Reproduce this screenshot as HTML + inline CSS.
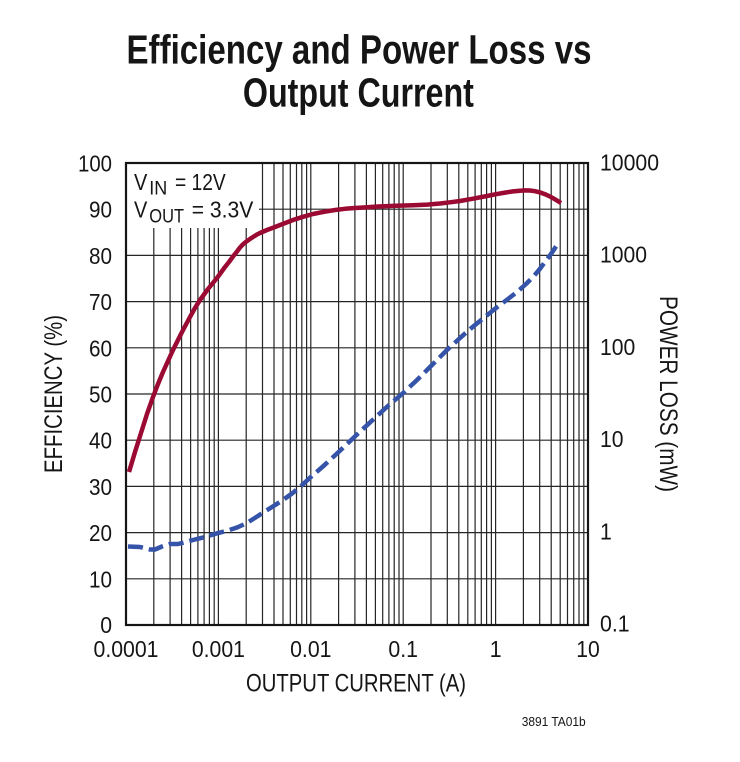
<!DOCTYPE html>
<html><head><meta charset="utf-8"><style>
html,body{margin:0;padding:0;background:#fff;}
svg{display:block;}
text{font-family:"Liberation Sans",sans-serif;fill:#151515;}
</style></head><body>
<svg width="740" height="762" viewBox="0 0 740 762" xmlns="http://www.w3.org/2000/svg">
<rect width="740" height="762" fill="#fff"/>
<!-- Title -->
<text x="359" y="63.3" font-size="41" font-weight="bold" text-anchor="middle" textLength="465" lengthAdjust="spacingAndGlyphs">Efficiency and Power Loss vs</text>
<text x="358.4" y="106.7" font-size="41" font-weight="bold" text-anchor="middle" textLength="231" lengthAdjust="spacingAndGlyphs">Output Current</text>

<!-- grid -->
<g stroke="#262626" stroke-width="1.2" fill="none">
<path d="M126 209.2H588M126 255.4H588M126 301.6H588M126 347.8H588M126 394H588M126 440.2H588M126 486.4H588M126 532.6H588M126 578.8H588"/>
<path d="M153.8 163V625M170.1 163V625M181.6 163V625M190.6 163V625M197.9 163V625M204.1 163V625M209.4 163V625M214.2 163V625
M218.4 163V625M246.2 163V625M262.5 163V625M274 163V625M283 163V625M290.3 163V625M296.5 163V625M301.8 163V625M306.6 163V625
M310.8 163V625M338.6 163V625M354.9 163V625M366.4 163V625M375.4 163V625M382.7 163V625M388.9 163V625M394.2 163V625M399 163V625
M403.2 163V625M431 163V625M447.3 163V625M458.8 163V625M467.8 163V625M475.1 163V625M481.3 163V625M486.6 163V625M491.4 163V625
M495.6 163V625M523.4 163V625M539.7 163V625M551.2 163V625M560.2 163V625M567.5 163V625M573.7 163V625M579 163V625M583.8 163V625"/>
</g>
<!-- inset box -->
<rect x="127" y="164" width="132" height="64" fill="#fff"/>
<!-- frame -->
<rect x="126" y="163" width="462" height="462" fill="none" stroke="#151515" stroke-width="2.2"/>

<!-- efficiency curve -->
<polyline fill="none" stroke="#9a0a32" stroke-width="4.5" stroke-linejoin="round" stroke-linecap="butt"
points="129,472 135,452 141,433 147,414 153,397 158,384 163,372 168,361 173,350 178,340 182,332 186,324.5 190,317 195,308 200,300 204,294.5 208,289 212.5,283.5 217,278 221,272.5 225,267 229,262 233,256.5 237,251.5 240,247.5 243,244.3 246,241.8 249.5,239.3 253,237 256.5,234.8 260,233 267,230 275,227 284,223.5 293,220 303,216.8 313,214 324,211.8 335,210 345,208.8 355,208 367,207.2 380,206.4 396,205.8 413,205.3 427,204.6 440,203.5 450,202.3 460,201 473,198.7 487,196 496,194.2 505,192.6 513,191.4 520,190.7 525,190.4 530,190.5 535,191.2 540,192.4 545,194.2 550,196.5 555,199.3 561,203"/>

<!-- power loss curve -->
<polyline fill="none" stroke="#3553a8" stroke-width="4.5" stroke-dasharray="15 6" stroke-linejoin="round"
points="128,546.5 140,547 150,549.5 155,549.5 162,546.5 170,544 178,544 186,542 193,540 205,537 217,533.3 228,530.5 237,527.5 246,523.5 254,518.5 262.5,513 272,507 283,500 292,493.5 300,487 310.8,477 324,465.5 338.6,452 357,434.5 375.4,417.5 389,405 403.2,393 417,380 431,366 447,350 460,338 472,327.5 483,318.5 495,308.8 506,300.5 517,292 526,284 533,277 539,270 545,262 551,254 555,248 559,242"/>

<!-- inset text -->
<text x="134" y="190" font-size="23.5" textLength="13.3" lengthAdjust="spacingAndGlyphs">V</text>
<text x="149.3" y="194.5" font-size="19.5" textLength="18" lengthAdjust="spacingAndGlyphs">IN</text>
<text x="175" y="190" font-size="23.5" textLength="50.7" lengthAdjust="spacingAndGlyphs">= 12V</text>
<text x="134" y="217.7" font-size="23.5" textLength="13.3" lengthAdjust="spacingAndGlyphs">V</text>
<text x="149.3" y="222.3" font-size="19.5" textLength="34.7" lengthAdjust="spacingAndGlyphs">OUT</text>
<text x="191.7" y="217.7" font-size="23.5" textLength="61.6" lengthAdjust="spacingAndGlyphs">= 3.3V</text>

<!-- left ticks -->
<g font-size="23.5" text-anchor="end">
<text x="112" y="171.5" textLength="34" lengthAdjust="spacingAndGlyphs">100</text>
<text x="112" y="217.7" textLength="23" lengthAdjust="spacingAndGlyphs">90</text>
<text x="112" y="263.9" textLength="23" lengthAdjust="spacingAndGlyphs">80</text>
<text x="112" y="310.1" textLength="23" lengthAdjust="spacingAndGlyphs">70</text>
<text x="112" y="356.3" textLength="23" lengthAdjust="spacingAndGlyphs">60</text>
<text x="112" y="402.5" textLength="23" lengthAdjust="spacingAndGlyphs">50</text>
<text x="112" y="448.7" textLength="23" lengthAdjust="spacingAndGlyphs">40</text>
<text x="112" y="494.9" textLength="23" lengthAdjust="spacingAndGlyphs">30</text>
<text x="112" y="541.1" textLength="23" lengthAdjust="spacingAndGlyphs">20</text>
<text x="112" y="587.3" textLength="23" lengthAdjust="spacingAndGlyphs">10</text>
<text x="112" y="633" textLength="11.8" lengthAdjust="spacingAndGlyphs">0</text>
</g>
<!-- right ticks -->
<g font-size="23.5">
<text x="600" y="170.5" textLength="59" lengthAdjust="spacingAndGlyphs">10000</text>
<text x="600" y="262.7" textLength="47" lengthAdjust="spacingAndGlyphs">1000</text>
<text x="600" y="354.9" textLength="35.3" lengthAdjust="spacingAndGlyphs">100</text>
<text x="600" y="447.1" textLength="23.5" lengthAdjust="spacingAndGlyphs">10</text>
<text x="600" y="539.3" textLength="11.8" lengthAdjust="spacingAndGlyphs">1</text>
<text x="600" y="631.5" textLength="29.6" lengthAdjust="spacingAndGlyphs">0.1</text>
</g>
<!-- bottom ticks -->
<g font-size="23.5" text-anchor="middle">
<text x="126" y="657" textLength="65" lengthAdjust="spacingAndGlyphs">0.0001</text>
<text x="218.4" y="657" textLength="53" lengthAdjust="spacingAndGlyphs">0.001</text>
<text x="310.8" y="657" textLength="41.4" lengthAdjust="spacingAndGlyphs">0.01</text>
<text x="403.2" y="657" textLength="29.6" lengthAdjust="spacingAndGlyphs">0.1</text>
<text x="495.6" y="657" textLength="11.8" lengthAdjust="spacingAndGlyphs">1</text>
<text x="588" y="657" textLength="23.5" lengthAdjust="spacingAndGlyphs">10</text>
</g>
<!-- axis titles -->
<text x="356" y="691.5" font-size="25" text-anchor="middle" textLength="220" lengthAdjust="spacingAndGlyphs">OUTPUT CURRENT (A)</text>
<text transform="translate(62,394) rotate(-90)" x="0" y="0" font-size="25" text-anchor="middle" textLength="158" lengthAdjust="spacingAndGlyphs">EFFICIENCY (%)</text>
<text transform="translate(660,394) rotate(90)" x="0" y="0" font-size="25" text-anchor="middle" textLength="196" lengthAdjust="spacingAndGlyphs">POWER LOSS (mW)</text>
<!-- footer -->
<text x="521.7" y="726" font-size="13" textLength="64" lengthAdjust="spacingAndGlyphs">3891 TA01b</text>
</svg>
</body></html>
